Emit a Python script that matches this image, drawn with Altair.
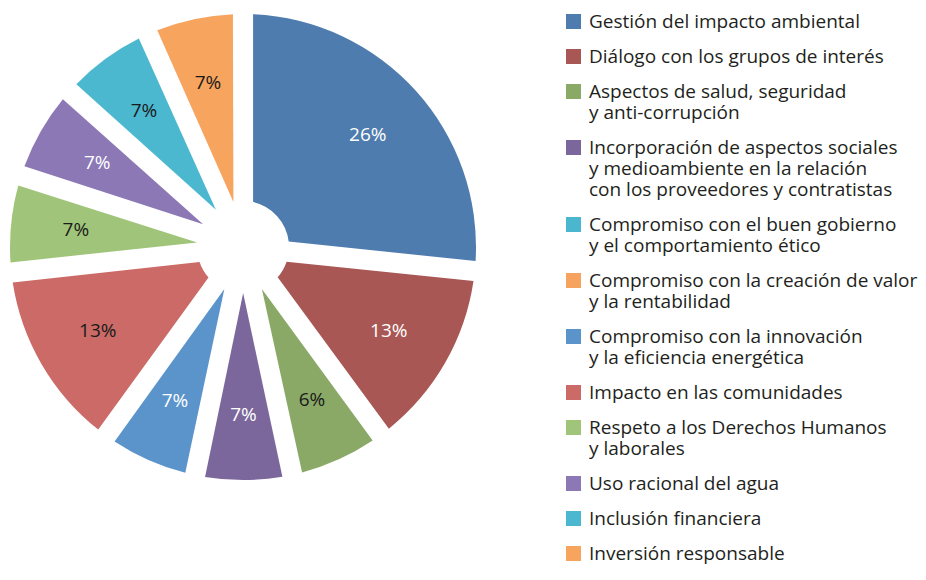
import altair as alt

# ---------------- data ----------------
# legend entries, one list of text lines per entry
category_lines = [
    ["Gestión del impacto ambiental"],
    ["Diálogo con los grupos de interés"],
    ["Aspectos de salud, seguridad", "y anti-corrupción"],
    ["Incorporación de aspectos sociales", "y medioambiente en la relación",
     "con los proveedores y contratistas"],
    ["Compromiso con el buen gobierno", "y el comportamiento ético"],
    ["Compromiso con la creación de valor", "y la rentabilidad"],
    ["Compromiso con la innovación", "y la eficiencia energética"],
    ["Impacto en las comunidades"],
    ["Respeto a los Derechos Humanos", "y laborales"],
    ["Uso racional del agua"],
    ["Inclusión financiera"],
    ["Inversión responsable"],
]
# slice sizes (share of the circle)
shares = [26.7, 13.3, 6.7, 6.7, 0, 0, 6.7, 13.3, 6.7, 6.7, 6.7, 6.7]
# printed slice labels
pct_labels = ["26%", "13%", "6%", "7%", "", "", "7%", "13%", "7%", "7%", "7%", "7%"]

# ---------------- styles ----------------
colors = ["#4F7CAE", "#A85755", "#8AA866", "#7B679C", "#4BB7CF", "#F6A35F",
          "#5A94CB", "#CB6A66", "#A0C57A", "#8B78B5", "#4CB8D0", "#F7A45F"]
names = ["|".join(lines) for lines in category_lines]
white_label_names = [names[i] for i in (0, 1, 3, 6, 9)]
FONT = "Open Sans"

records = [
    {"name": n, "share": s, "pct": p, "idx": i}
    for i, (n, s, p) in enumerate(zip(names, shares, pct_labels))
]

base = alt.Chart(alt.Data(values=records)).encode(
    theta=alt.Theta("share:Q", stack=True),
    order=alt.Order("idx:Q"),
    x=alt.value(235),
    y=alt.value(239),
)

pie = base.mark_arc(innerRadius=46, outerRadius=233, padAngle=0.085).encode(
    color=alt.Color(
        "name:N",
        scale=alt.Scale(domain=names, range=colors),
        legend=alt.Legend(
            title=None,
            orient="none",
            legendX=556,
            legendY=4,
            symbolType="square",
            symbolSize=225,
            symbolStrokeWidth=0,
            symbolOpacity=1,
            labelFont=FONT,
            labelFontSize=19,
            labelColor="#231F20",
            labelOffset=6,
            labelLimit=400,
            rowPadding=15,
            labelExpr="split(datum.label, '|')",
        ),
    )
)

labels = base.mark_text(radius=168, font=FONT, fontSize=19).encode(
    text="pct:N",
    detail="name:N",
    color=alt.condition(
        alt.FieldOneOfPredicate(field="name", oneOf=white_label_names),
        alt.value("#ffffff"),
        alt.value("#1a1a1a"),
    ),
)

chart = (
    alt.layer(pie, labels)
    .properties(width=910, height=558, padding=0, autosize=alt.AutoSizeParams(type="none"))
    .configure_view(stroke=None)
)

chart.save("out.html", embed_options={"renderer": "svg", "actions": False})
